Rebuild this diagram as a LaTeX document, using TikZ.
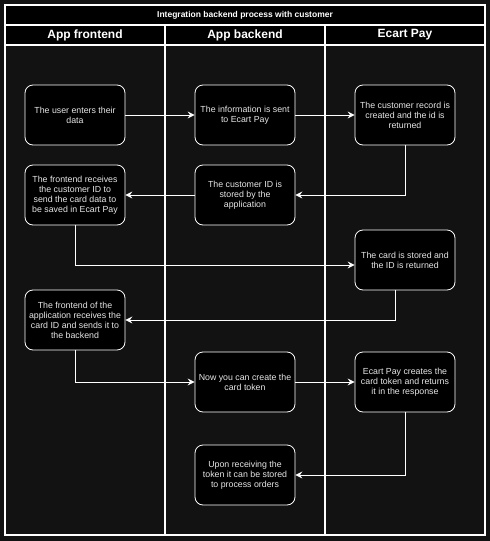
\documentclass[tikz,border=0pt]{standalone}
\usepackage{fontspec}
\setmainfont{Liberation Sans}
\usetikzlibrary{arrows.meta, calc}

\definecolor{pagebg}{HTML}{121212}
\definecolor{boxtext}{HTML}{E6E6E6}

\begin{document}
\begin{tikzpicture}[
    x=1pt, y=-1pt,
    % Estilos de carriles
    lane frame/.style={draw=white, line width=1.2pt},
    title band/.style={draw=white, line width=1.2pt, fill=black},
    lane title/.style={font=\bfseries\fontsize{12}{14}\selectfont, text=white},
    % Estilos de pasos
    step box/.style={draw=white, fill=black, rounded corners=8pt, line width=0.8pt,
        minimum width=100pt, minimum height=60pt, text width=98pt, align=flush center,
        inner sep=1pt, font=\fontsize{8.8}{10}\selectfont, text=boxtext},
    % Estilos de flechas
    flow/.style={draw=white, line width=0.9pt, -{Stealth[length=7pt, width=7pt, inset=2.5pt]}}
]

    % =========================================================================
    % 1. Fondo y carriles
    % =========================================================================
    \useasboundingbox[fill=pagebg] (0,0) rectangle (490,541);
    \draw[title band] (5,5) rectangle (485,45);
    \draw[lane frame] (5,5) rectangle (485,535);
    \draw[lane frame] (5,25) -- (485,25);
    \draw[lane frame] (5,45) -- (485,45);
    \draw[lane frame] (165,25) -- (165,535);
    \draw[lane frame] (325,25) -- (325,535);

    \node[font=\bfseries\fontsize{8.5}{10}\selectfont, text=white] (title) at (245,15) {Integration backend process with customer};
    \node[lane title] (hfront) at (85,35) {App frontend};
    \node[lane title] (hback) at (245,35) {App backend};
    \node[lane title] (hpay) at (405,35) {Ecart Pay};

    % =========================================================================
    % 2. Pasos
    % =========================================================================
    \node[step box] (a1) at (75,115) {The user enters their\\ data};
    \node[step box] (b1) at (245,115) {The information is sent\\ to Ecart Pay};
    \node[step box] (c1) at (405,115) {The customer record is\\ created and the id is\\ returned};
    \node[step box] (b2) at (245,195) {The customer ID is\\ stored by the\\ application};
    \node[step box] (a2) at (75,195) {The frontend receives\\ the customer ID to\\ send the card data to\\ be saved in Ecart Pay};
    \node[step box] (c2) at (405,260) {The card is stored and\\ the ID is returned};
    \node[step box] (a3) at (75,320) {The frontend of the\\ application receives the\\ card ID and sends it to\\ the backend};
    \node[step box] (b3) at (245,382) {Now you can create the\\ card token};
    \node[step box] (c3) at (405,382) {Ecart Pay creates the\\ card token and returns\\ it in the response};
    \node[step box] (b4) at (245,475) {Upon receiving the\\ token it can be stored\\ to process orders};

    % =========================================================================
    % 3. Flujo
    % =========================================================================
    \draw[flow] (a1) -- (b1);
    \draw[flow] (b1) -- (c1);
    \draw[flow] (c1.south) |- (b2.east);
    \draw[flow] (b2) -- (a2);
    \draw[flow] (a2.south) |- ([yshift=-5pt]c2.west);
    \draw[flow] ([xshift=-10pt]c2.south) |- (a3.east);
    \draw[flow] (a3.south) |- (b3.west);
    \draw[flow] (b3) -- (c3);
    \draw[flow] (c3.south) |- (b4.east);
\end{tikzpicture}
\end{document}
